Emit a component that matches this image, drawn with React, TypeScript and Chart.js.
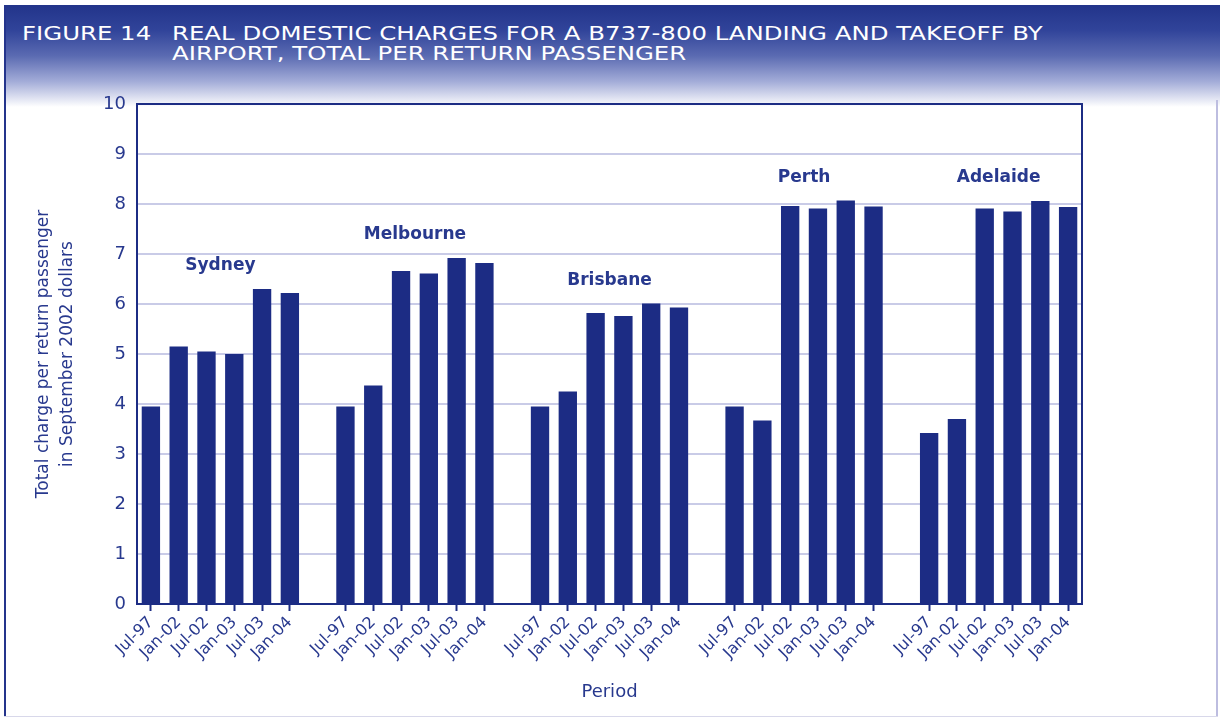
import React, { useEffect, useRef } from "react";
import { Chart, registerables } from "chart.js";

Chart.register(...registerables);

// Airports (groups) and the survey periods shown for each of them
const airports = ["Sydney", "Melbourne", "Brisbane", "Perth", "Adelaide"];
const periods = ["Jul-97", "Jan-02", "Jul-02", "Jan-03", "Jul-03", "Jan-04"];

// Total charge per return passenger, September 2002 dollars
const sydney = [3.95, 5.15, 5.05, 5.0, 6.3, 6.22];
const melbourne = [3.95, 4.37, 6.66, 6.61, 6.92, 6.82];
const brisbane = [3.95, 4.25, 5.82, 5.76, 6.01, 5.93];
const perth = [3.95, 3.67, 7.96, 7.91, 8.07, 7.95];
const adelaide = [3.42, 3.7, 7.91, 7.85, 8.06, 7.94];

const yTicks = [0, 1, 2, 3, 4, 5, 6, 7, 8, 9, 10];

const groups = [sydney, melbourne, brisbane, perth, adelaide];

const NAVY = "#1c2c84";
const TEXT = "#28398e";
const GRID = "#c9cbe7";
const FONT = '"DejaVu Sans", "Noto Sans", sans-serif';

// Flatten the groups into one category axis, with an empty slot between airports
const labels: string[] = [];
const values: (number | null)[] = [];
groups.forEach((g, gi) => {
  periods.forEach((p, pi) => {
    labels.push(p);
    values.push(g[pi]);
  });
  if (gi < groups.length - 1) {
    labels.push("");
    values.push(null);
  }
});

// Airport names written above each group of bars
const groupLabelPlugin = {
  id: "groupLabels",
  afterDatasetsDraw(chart: any) {
    const { ctx } = chart;
    const x = chart.scales.x;
    const y = chart.scales.y;
    ctx.save();
    ctx.font = `bold 17px ${FONT}`;
    ctx.fillStyle = TEXT;
    ctx.textAlign = "center";
    ctx.textBaseline = "middle";
    groups.forEach((g, gi) => {
      const start = gi * (periods.length + 1);
      const cx = (x.getPixelForValue(start + 2) + x.getPixelForValue(start + 3)) / 2;
      const top = y.getPixelForValue(Math.max(...g));
      ctx.fillText(airports[gi], cx, top - 23);
    });
    ctx.restore();
  },
};

// Box around the plotting area
const framePlugin = {
  id: "plotFrame",
  afterDatasetsDraw(chart: any) {
    const { ctx, chartArea } = chart;
    ctx.save();
    ctx.strokeStyle = NAVY;
    ctx.lineWidth = 2;
    ctx.strokeRect(chartArea.left, chartArea.top, chartArea.right - chartArea.left, chartArea.bottom - chartArea.top);
    ctx.restore();
  },
};

function ChargesChart() {
  const canvasRef = useRef<HTMLCanvasElement | null>(null);

  useEffect(() => {
    if (!canvasRef.current) return;
    const chart = new Chart(canvasRef.current, {
      type: "bar",
      data: {
        labels,
        datasets: [
          {
            data: values,
            backgroundColor: NAVY,
            borderWidth: 0,
            barPercentage: 0.66,
            categoryPercentage: 1,
          },
        ],
      },
      options: {
        responsive: false,
        animation: false,
        devicePixelRatio: 1,
        layout: { padding: { top: 104, right: 141, left: 0, bottom: 0 } },
        plugins: {
          legend: { display: false },
          tooltip: { enabled: false },
        },
        scales: {
          x: {
            offset: true,
            afterFit(scale: any) {
              scale.height = 115;
            },
            grid: {
              offset: false,
              drawOnChartArea: false,
              drawTicks: true,
              tickLength: 7,
              tickWidth: 2,
              tickColor: (ctx: any) => (labels[ctx.index] === "" ? "rgba(0,0,0,0)" : NAVY),
            },
            border: { display: true, color: NAVY, width: 2 },
            ticks: {
              autoSkip: false,
              minRotation: 45,
              maxRotation: 45,
              padding: 2,
              color: TEXT,
              font: { family: FONT, size: 16 },
            },
            title: {
              display: true,
              text: "Period",
              color: TEXT,
              font: { family: FONT, size: 18 },
              padding: { top: 0, bottom: 16 },
            },
          },
          y: {
            min: 0,
            max: 10,
            afterFit(scale: any) {
              scale.width = 137;
            },
            afterBuildTicks(scale: any) {
              scale.ticks = yTicks.map((v) => ({ value: v }));
            },
            grid: {
              color: GRID,
              lineWidth: 2,
              drawTicks: false,
            },
            border: { display: true, color: NAVY, width: 2 },
            ticks: {
              padding: 11,
              color: TEXT,
              font: { family: FONT, size: 18 },
            },
            title: {
              display: true,
              text: ["Total charge per return passenger", "in September 2002 dollars"],
              color: TEXT,
              font: { family: FONT, size: 17, lineHeight: 1.45 },
              padding: { top: 31, bottom: 0 },
            },
          },
        },
      },
      plugins: [groupLabelPlugin, framePlugin],
    });
    return () => chart.destroy();
  }, []);

  return (
    <canvas
      ref={canvasRef}
      width={1223}
      height={719}
      style={{ position: "absolute", left: 0, top: 0, width: 1223, height: 719 }}
    />
  );
}

export default function App() {
  const titleStyle: React.CSSProperties = {
    position: "absolute",
    color: "#ffffff",
    fontFamily: FONT,
    fontSize: 20,
    lineHeight: "20px",
    whiteSpace: "nowrap",
    transform: "scaleX(1.22)",
    transformOrigin: "left top",
  };
  return (
    <div
      style={{
        position: "absolute",
        left: 0,
        top: 0,
        width: 1223,
        height: 719,
        background: "#ffffff",
        overflow: "hidden",
      }}
    >
      <div
        style={{
          position: "absolute",
          left: 5,
          top: 5,
          width: 1215,
          height: 102,
          background:
            "linear-gradient(180deg, #22348a 0%, #31449a 25%, #5b6bb2 50%, #a3acd8 75%, #ffffff 100%)",
        }}
      />
      <div style={{ ...titleStyle, left: 22, top: 23 }}>FIGURE 14</div>
      <div style={{ ...titleStyle, left: 172, top: 23 }}>
        REAL DOMESTIC CHARGES FOR A B737-800 LANDING AND TAKEOFF BY
        <br />
        AIRPORT, TOTAL PER RETURN PASSENGER
      </div>
      <div style={{ position: "absolute", left: 4, top: 5, width: 2, height: 712, background: "#24348c" }} />
      <div style={{ position: "absolute", left: 1216, top: 100, width: 2, height: 617, background: "#bdbde0" }} />
      <div style={{ position: "absolute", left: 4, top: 716, width: 1214, height: 1, background: "#d8d8ea" }} />
      <ChargesChart />
    </div>
  );
}
